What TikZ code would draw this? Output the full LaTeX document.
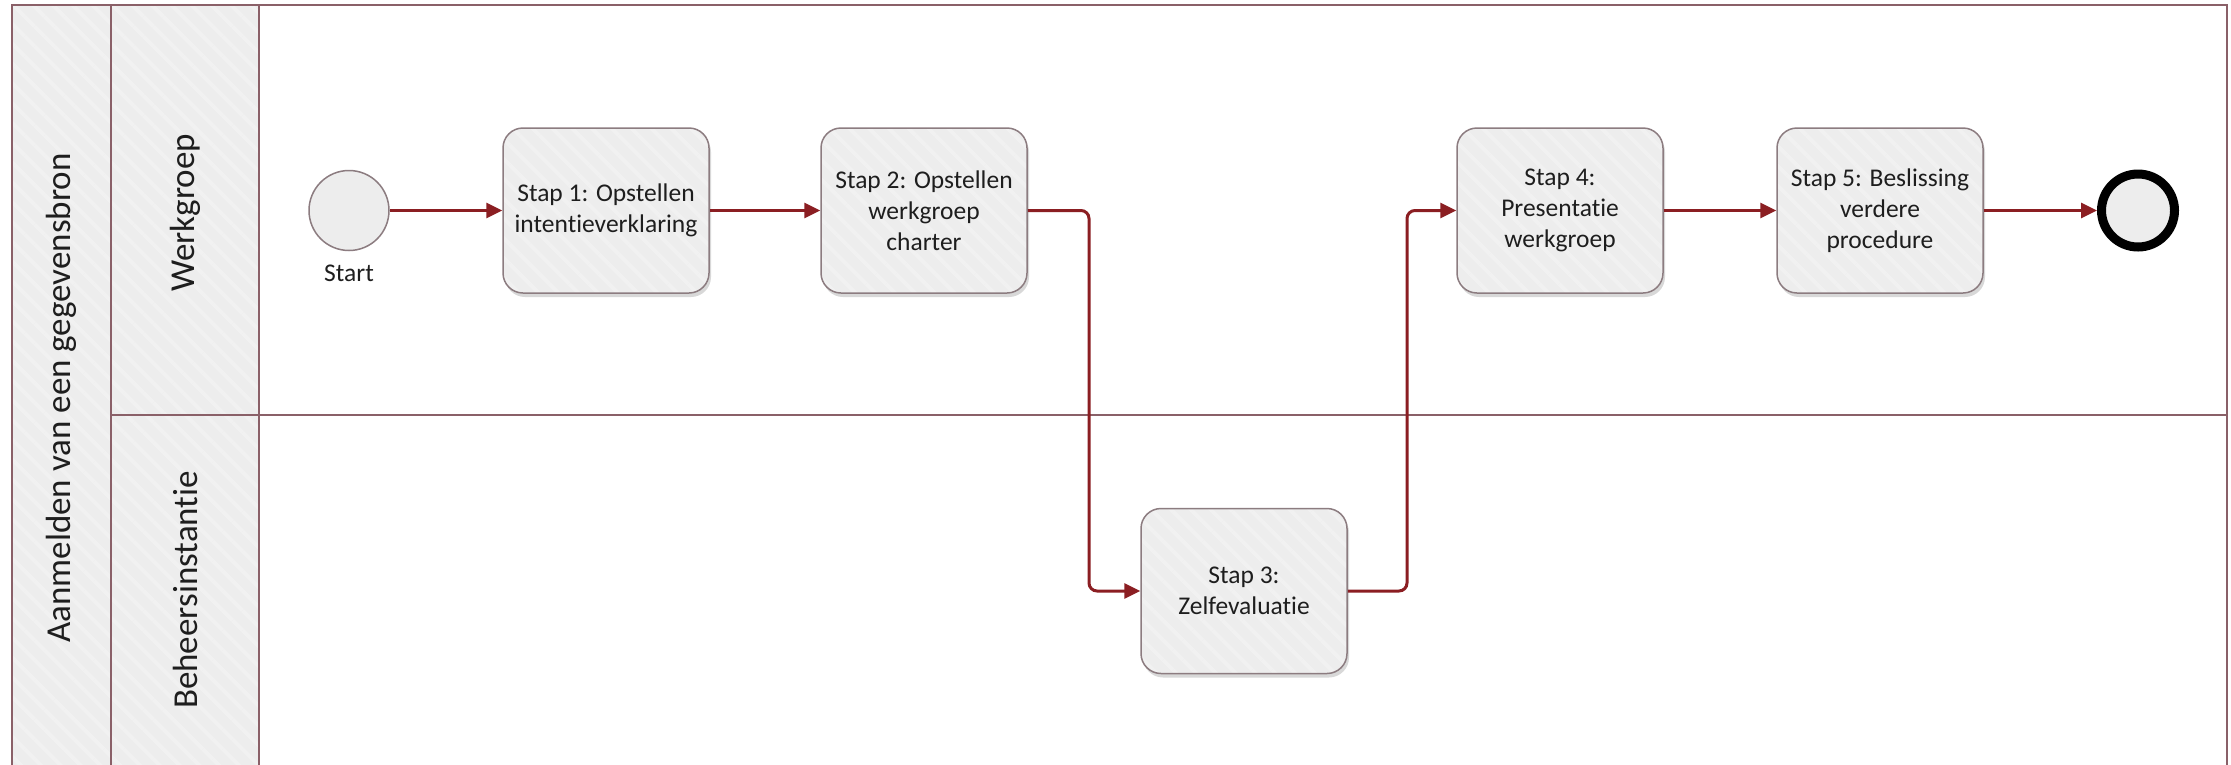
\documentclass[tikz,border=0pt]{standalone}
\usepackage{fontspec}
\setmainfont{Carlito}[Ligatures=NoCommon]
\usetikzlibrary{arrows.meta,shadows,patterns.meta}
\definecolor{flowred}{HTML}{8B1E22}
\definecolor{frameclr}{HTML}{8A6068}
\definecolor{boxfill}{HTML}{EDEDED}
\definecolor{stripe}{HTML}{F1F1F1}
\definecolor{boxdraw}{HTML}{8C7C80}
\definecolor{txt}{HTML}{1E1E1E}
\begin{document}
\begin{tikzpicture}[x=1pt,y=-1pt,
  stripes/.style={pattern={Lines[angle=-45,distance=14pt,line width=4pt]}, pattern color=stripe},
  stepbox/.style={rounded corners=20pt,
    minimum width=206pt, minimum height=165pt, inner sep=0pt, align=center, text=txt,
    font=\fontsize{25.5}{31}\selectfont,
    drop shadow={shadow xshift=2pt, shadow yshift=-4pt, opacity=0.25, fill=black!60},
    preaction={fill=boxfill}, preaction={stripes},
    draw=boxdraw, line width=1.5pt},
  startev/.style={circle, draw=boxdraw, line width=1.5pt, fill=boxfill, minimum size=80pt, inner sep=0pt},
  endev/.style={circle, draw=black, line width=9pt, fill=boxfill, minimum size=73pt, inner sep=0pt},
  lanelabel/.style={rotate=90, text=txt, font=\fontsize{35}{42}\selectfont},
  evlabel/.style={text=txt, font=\fontsize{25.5}{31}\selectfont},
  flow/.style={draw=flowred, line width=3pt, -{Triangle[length=16pt,width=15pt]}},
  frame/.style={draw=frameclr, line width=2.5pt}
]
\useasboundingbox (0,0) rectangle (2231,764);
\fill[white] (0,0) rectangle (2231,764);
% header columns
\fill[boxfill] (12,5) rectangle (259,770);
\fill[stripes] (12,5) rectangle (259,770);
% frame
\draw[frame] (12,770) -- (12,5) -- (2227,5) -- (2227,770);
\draw[frame] (111,5) -- (111,770);
\draw[frame] (259,5) -- (259,770);
\draw[frame] (111,415) -- (2227,415);
% labels
\node[lanelabel] (pool) at (61.5,398) {Aanmelden van een gegevensbron};
\node[lanelabel] (lane1) at (185,213) {Werkgroep};
\node[lanelabel] (lane2) at (185,590) {Beheersinstantie};
% events
\node[startev] (start) at (349,210.5) {};
\node[evlabel] (startlbl) at (349,273) {Start};
\node[endev] (end) at (2138,210.5) {};
% tasks
\node[stepbox] (s1) at (606,210.5) {Stap 1: Opstellen\\intentieverklaring};
\node[stepbox] (s2) at (924,210.5) {Stap 2: Opstellen\\werkgroep\\charter};
\node[stepbox] (s3) at (1244,591) {Stap 3:\\Zelfevaluatie};
\node[stepbox] (s4) at (1560,210.5) {Stap 4:\\Presentatie\\werkgroep};
\node[stepbox] (s5) at (1880,210.5) {Stap 5: Beslissing\\verdere\\procedure};
% connectors
\coordinate (c1) at (1089,210.5);
\coordinate (c2) at (1407,591);
\draw[flow] (start) -- (s1);
\draw[flow] (s1) -- (s2);
\draw[flow, rounded corners=8pt] (s2.east) -- (c1) |- (s3.west);
\draw[flow, rounded corners=8pt] (s3.east) -- (c2) |- (s4.west);
\draw[flow] (s4) -- (s5);
\draw[flow] (s5) -- (end);
\end{tikzpicture}
\end{document}
